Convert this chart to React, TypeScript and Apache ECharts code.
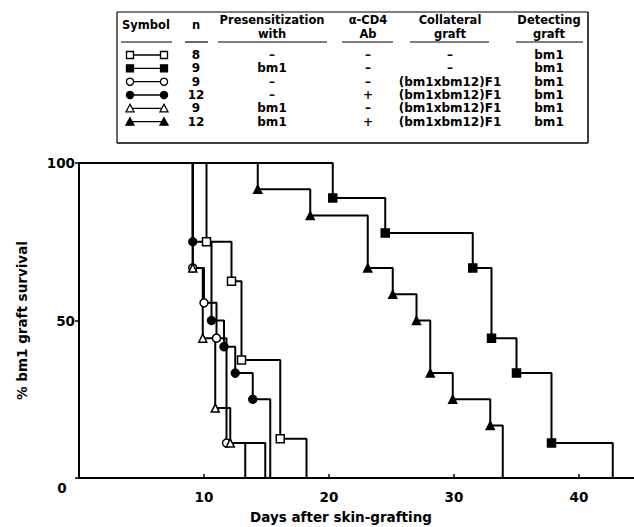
import React, { useEffect, useRef } from "react";
import * as echarts from "echarts";

const FONT_FAMILY = "'DejaVu Sans', 'Liberation Sans', sans-serif";

// Kaplan–Meier steps: day of event, % grafts surviving after it
const openSquareDays = [10.2, 12.2, 13.0, 16.1, 18.2];
const openSquareSurv = [75, 62.5, 37.5, 12.5, 0];

const filledSquareDays = [20.3, 24.5, 31.5, 33.0, 35.0, 37.8, 42.7];
const filledSquareSurv = [88.9, 77.8, 66.7, 44.4, 33.3, 11.1, 0];

const openCircleDays = [9.1, 10.0, 11.0, 11.8, 14.9];
const openCircleSurv = [66.7, 55.6, 44.4, 11.1, 0];

const filledCircleDays = [9.1, 10.6, 11.6, 12.5, 13.9, 15.3];
const filledCircleSurv = [75, 50, 41.7, 33.3, 25, 0];

const openTriangleDays = [9.1, 9.9, 10.9, 12.1, 13.3];
const openTriangleSurv = [66.7, 44.4, 22.2, 11.1, 0];

const filledTriangleDays = [14.3, 18.5, 23.1, 25.1, 27.0, 28.1, 29.9, 32.9, 33.9];
const filledTriangleSurv = [91.7, 83.3, 66.7, 58.3, 50, 33.3, 25, 16.7, 0];

// Legend table
const tableHeaders = [["Symbol"], ["n"], ["Presensitization", "with"], ["α-CD4", "Ab"], ["Collateral", "graft"], ["Detecting", "graft"]];
const tableN = ["8", "9", "9", "12", "9", "12"];
const tablePresens = ["–", "bm1", "–", "–", "bm1", "bm1"];
const tableCD4 = ["–", "–", "–", "+", "–", "+"];
const tableCollateral = ["–", "–", "(bm1xbm12)F1", "(bm1xbm12)F1", "(bm1xbm12)F1", "(bm1xbm12)F1"];
const tableDetecting = ["bm1", "bm1", "bm1", "bm1", "bm1", "bm1"];

const xTitle = "Days after skin-grafting";
const yTitle = "% bm1 graft survival";

type Mark = { symbol: string; open: boolean };
const seriesMarks: Mark[] = [
  { symbol: "rect", open: true },
  { symbol: "rect", open: false },
  { symbol: "circle", open: true },
  { symbol: "circle", open: false },
  { symbol: "triangle", open: true },
  { symbol: "triangle", open: false },
];
const seriesDays = [openSquareDays, filledSquareDays, openCircleDays, filledCircleDays, openTriangleDays, filledTriangleDays];
const seriesSurv = [openSquareSurv, filledSquareSurv, openCircleSurv, filledCircleSurv, openTriangleSurv, filledTriangleSurv];
const seriesNames = ["□—□", "■—■", "○—○", "●—●", "△—△", "▲—▲"];

function buildData(days: number[], surv: number[]) {
  const d: any[] = [{ value: [0, 100], symbol: "none" }];
  days.forEach((t, i) => {
    d.push(surv[i] === 0 ? { value: [t, surv[i]], symbol: "none" } : { value: [t, surv[i]] });
  });
  return d;
}

function symbolGraphic(kind: Mark, cx: number, cy: number): any {
  const style = { fill: kind.open ? "#fff" : "#000", stroke: "#000", lineWidth: 1.3 };
  if (kind.symbol === "rect") return { type: "rect", shape: { x: cx - 3.5, y: cy - 3.5, width: 7, height: 7 }, style, z: 10 };
  if (kind.symbol === "circle") return { type: "circle", shape: { cx, cy, r: 3.6 }, style, z: 10 };
  return { type: "polygon", shape: { points: [[cx, cy - 4], [cx + 4, cy + 3.5], [cx - 4, cy + 3.5]] }, style, z: 10 };
}

export default function App() {
  const ref = useRef<HTMLDivElement>(null);
  useEffect(() => {
    if (!ref.current) return;
    const chart = echarts.init(ref.current, undefined, { renderer: "svg" });

    const colX = [146, 196, 272, 368, 450, 549];
    const rowY = [55, 68.3, 81.7, 95, 108.3, 121.7];
    const ulines = [[121, 172], [185, 208], [218, 327], [342, 393], [410, 489], [516, 583]];
    const tFont = `bold 12px ${FONT_FAMILY}`;
    const hFont = `bold 11.5px ${FONT_FAMILY}`;
    const g: any[] = [];
    // table frame
    const L = 117, R = 588, T = 12, B = 143;
    g.push({ type: "line", shape: { x1: L, y1: T, x2: R, y2: T }, style: { stroke: "#000", lineWidth: 1.2 } });
    g.push({ type: "line", shape: { x1: L, y1: B, x2: R, y2: B }, style: { stroke: "#000", lineWidth: 1.5 } });
    g.push({ type: "line", shape: { x1: L, y1: T, x2: L, y2: B }, style: { stroke: "#000", lineWidth: 1.2 } });
    g.push({ type: "line", shape: { x1: R, y1: T, x2: R, y2: B }, style: { stroke: "#000", lineWidth: 1.5 } });
    tableHeaders.forEach((h, i) => {
      const ys = h.length === 2 ? [20, 34] : [25];
      h.forEach((line, k) => {
        g.push({
          type: "text",
          x: colX[i],
          y: ys[k],
          style: { text: line, font: hFont, textAlign: "center", textVerticalAlign: "middle", fill: "#000" },
        });
      });
      g.push({ type: "line", shape: { x1: ulines[i][0], y1: 42, x2: ulines[i][1], y2: 42 }, style: { stroke: "#000", lineWidth: 1.2 } });
    });
    const cols = [tableN, tablePresens, tableCD4, tableCollateral, tableDetecting];
    rowY.forEach((y, r) => {
      g.push({ type: "line", shape: { x1: 130, y1: y, x2: 164, y2: y }, style: { stroke: "#000", lineWidth: 1.3 } });
      g.push(symbolGraphic(seriesMarks[r], 130, y));
      g.push(symbolGraphic(seriesMarks[r], 164, y));
      cols.forEach((c, k) => {
        g.push({
          type: "text",
          x: colX[k + 1],
          y,
          style: { text: c[r], font: tFont, textAlign: "center", textVerticalAlign: "middle", fill: "#000" },
        });
      });
    });
    // axis extras
    g.push({ type: "text", x: 62, y: 488, style: { text: "0", font: `bold 13.5px ${FONT_FAMILY}`, textAlign: "center", textVerticalAlign: "middle", fill: "#000" } });
    g.push({ type: "text", x: 341, y: 517, style: { text: xTitle, font: `bold 13.5px ${FONT_FAMILY}`, textAlign: "center", textVerticalAlign: "middle", fill: "#000" } });

    const series = seriesDays.map((days, i) => ({
      name: seriesNames[i],
      type: "line",
      step: "end",
      data: buildData(days, seriesSurv[i]),
      symbol: seriesMarks[i].symbol,
      symbolSize: 8,
      showAllSymbol: true,
      lineStyle: { color: "#000", width: 2 },
      itemStyle: { color: seriesMarks[i].open ? "#fff" : "#000", borderColor: "#000", borderWidth: 1.5 },
      z: seriesMarks[i].open ? 3 : 2,
    }));

    chart.setOption({
      animation: false,
      backgroundColor: "#fff",
      grid: { left: 79, right: 0, top: 163, bottom: 49, containLabel: false },
      xAxis: {
        type: "value",
        min: 0,
        max: 44.4,
        interval: 10,
        axisLine: { lineStyle: { color: "#000", width: 2 } },
        axisTick: { show: true, inside: true, length: 4, lineStyle: { color: "#000", width: 1.5 } },
        axisLabel: {
          margin: 12,
          color: "#000",
          fontFamily: FONT_FAMILY,
          fontWeight: "bold",
          fontSize: 13.5,
          showMaxLabel: false,
          formatter: (v: number) => (v === 0 || v % 10 !== 0 ? "" : String(v)),
        },
        splitLine: { show: false },
      },
      yAxis: {
        type: "value",
        min: 0,
        max: 100,
        interval: 50,
        name: yTitle,
        nameLocation: "middle",
        nameGap: 50,
        nameTextStyle: { color: "#000", fontFamily: FONT_FAMILY, fontWeight: "bold", fontSize: 13.5 },
        axisLine: { show: true, lineStyle: { color: "#000", width: 2 } },
        axisTick: { show: true, length: 4, lineStyle: { color: "#000", width: 1.5 } },
        axisLabel: {
          margin: 4,
          color: "#000",
          fontFamily: FONT_FAMILY,
          fontWeight: "bold",
          fontSize: 13.5,
          formatter: (v: number) => (v === 0 ? "" : String(v)),
        },
        splitLine: { show: false },
      },
      graphic: g,
      series,
    });
    return () => chart.dispose();
  }, []);
  return <div ref={ref} style={{ position: "fixed", left: 0, top: 0, width: 634, height: 527, background: "#fff" }} />;
}
